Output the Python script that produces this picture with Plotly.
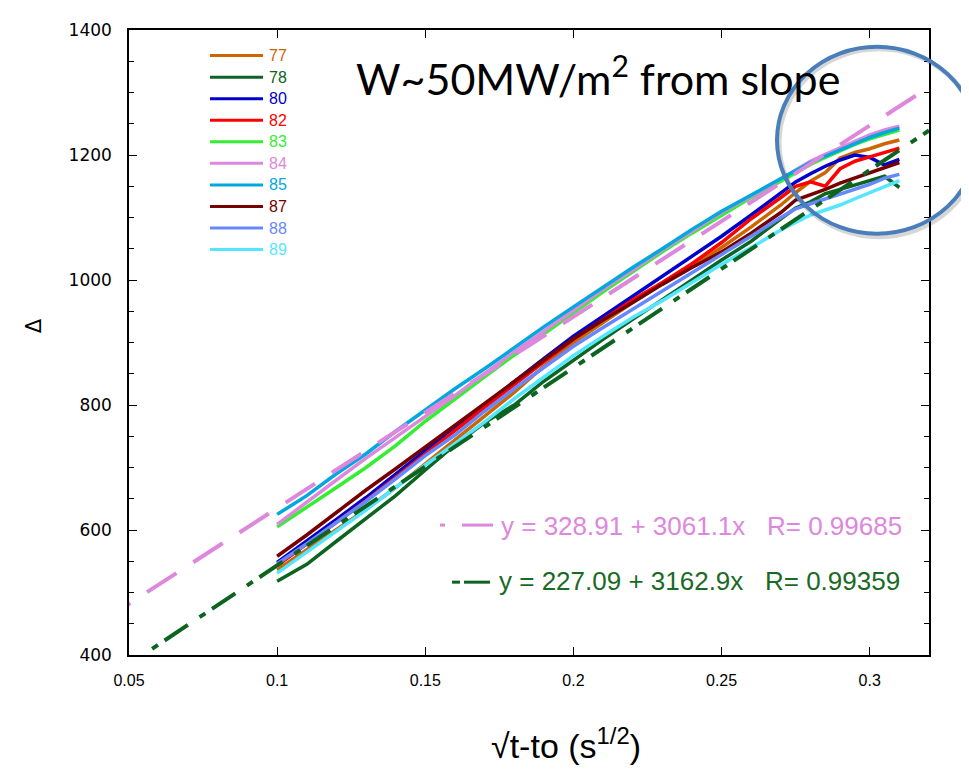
import plotly.graph_objects as go

# ---------------- data ----------------
X = [0.10, 0.11, 0.12, 0.13, 0.14, 0.15, 0.16, 0.17, 0.18, 0.19, 0.20, 0.21, 0.22,
     0.23, 0.24, 0.25, 0.26, 0.27, 0.275, 0.28, 0.285, 0.29, 0.295, 0.30, 0.305, 0.31]

S77 = [536, 568, 600, 633, 668, 706, 744, 782, 820, 862, 900, 932, 964,
       994, 1023, 1052, 1085, 1120, 1140, 1158, 1172, 1195, 1204, 1210, 1218, 1224]
S78 = [518, 545, 582, 618, 655, 696, 736, 772, 800, 838, 872, 905, 937,
       968, 1000, 1032, 1062, 1098, 1115, 1125, 1138, 1145, 1152, 1160, 1166, 1148]
S80 = [548, 582, 617, 652, 690, 727, 764, 801, 838, 874, 910, 942, 974,
       1006, 1038, 1070, 1104, 1140, 1157, 1170, 1182, 1192, 1200, 1196, 1184, 1193]
S82 = [543, 578, 612, 647, 684, 722, 759, 796, 833, 869, 905, 937, 968,
       996, 1026, 1060, 1098, 1132, 1150, 1157, 1150, 1178, 1190, 1197, 1204, 1211]
S83 = [605, 636, 668, 700, 735, 774, 810, 845, 880, 914, 948, 981, 1013,
       1045, 1075, 1104, 1132, 1158, 1172, 1185, 1196, 1207, 1217, 1226, 1233, 1240]
S84 = [609, 645, 680, 715, 748, 781, 815, 850, 885, 918, 952, 985, 1016,
       1048, 1078, 1108, 1134, 1162, 1177, 1190, 1201, 1212, 1222, 1232, 1240, 1246]
S85 = [625, 655, 690, 722, 758, 792, 826, 858, 892, 925, 957, 989, 1020,
       1050, 1081, 1110, 1136, 1162, 1176, 1188, 1198, 1208, 1218, 1228, 1236, 1243]
S87 = [558, 592, 628, 664, 698, 733, 768, 803, 838, 872, 906, 936, 964,
       993, 1020, 1045, 1075, 1108, 1128, 1136, 1145, 1155, 1163, 1171, 1180, 1188]
S88 = [546, 578, 612, 646, 682, 719, 752, 790, 826, 860, 894, 924, 953,
       983, 1012, 1041, 1070, 1100, 1114, 1122, 1130, 1138, 1146, 1153, 1163, 1169]
S89 = [531, 565, 598, 632, 668, 704, 738, 773, 810, 845, 879, 910, 940,
       967, 996, 1025, 1052, 1080, 1092, 1104, 1112, 1120, 1130, 1140, 1150, 1159]

SERIES_NAMES = ["77", "78", "80", "82", "83", "84", "85", "87", "88", "89"]
SERIES_VALUES = [S77, S78, S80, S82, S83, S84, S85, S87, S88, S89]
SERIES_COLORS = ["#cc6600", "#0c6420", "#0000cc", "#ff0000", "#33ee33",
                 "#dd88dd", "#00a8dd", "#760000", "#6688ff", "#55e6ff"]

# linear fits shown on chart
FIT1_A, FIT1_B = 328.91, 3061.1
FIT1_X = [0.0405, 0.317]
FIT2_A, FIT2_B = 227.09, 3162.9
FIT2_X = [0.0578, 0.32]
FIT1_LABEL = "y = 328.91 + 3061.1x   R= 0.99685"
FIT2_LABEL = "y = 227.09 + 3162.9x   R= 0.99359"

X_TICKS = [0.05, 0.1, 0.15, 0.2, 0.25, 0.3]
Y_TICKS = [400, 600, 800, 1000, 1200, 1400]

# ---------------- layout helpers (pixel -> paper) ----------------
L, T, PW, PH = 121, 12, 800, 635
R = 969 - L - PW
B = 775 - T - PH


def px(xp):
    return (xp - L) / PW


def py(yp):
    return (T + PH - yp) / PH


# ---------------- figure ----------------
fig = go.Figure()
for name, vals, col in zip(SERIES_NAMES, SERIES_VALUES, SERIES_COLORS):
    fig.add_trace(go.Scatter(x=X, y=vals, mode="lines", name=name,
                             line=dict(color=col, width=3.5), showlegend=False))

fig.add_trace(go.Scatter(
    x=FIT1_X, y=[FIT1_A + FIT1_B * v for v in FIT1_X], mode="lines",
    line=dict(color="#dd88dd", width=4, dash="35px,20px"), showlegend=False))
fig.add_trace(go.Scatter(
    x=FIT2_X, y=[FIT2_A + FIT2_B * v for v in FIT2_X], mode="lines",
    line=dict(color="#0c6420", width=4, dash="7px,8px,28px,14px"), showlegend=False))

axis_common = dict(showline=True, linecolor="black", linewidth=1.5, mirror="ticks",
                   ticks="inside", ticklen=8, tickwidth=1.2, tickcolor="black",
                   showgrid=False, zeroline=False, ticklabeloverflow="allow")

fig.update_xaxes(range=[0.05, 0.32], tickvals=X_TICKS,
                 ticktext=[f"{v:g}" for v in X_TICKS],
                 tickfont=dict(family="Liberation Sans Narrow, Liberation Sans, Arial", size=16, color="black"),
                 ticklabelstandoff=10, **axis_common)
fig.update_yaxes(range=[400, 1400], tickvals=Y_TICKS,
                 tickfont=dict(family="DejaVu Sans", size=17, color="black"),
                 ticklabelstandoff=12,
                 minor=dict(dtick=50, ticks="inside", ticklen=5, tickwidth=1.2, tickcolor="black"),
                 **axis_common)

annotations = [
    dict(text="W~50MW/m<sup>2</sup> from slope", xref="paper", yref="paper",
         x=px(346), y=py(58), xanchor="left", yanchor="middle",
         showarrow=False, font=dict(family="Lato", size=43, color="black")),
    dict(text=FIT1_LABEL, xref="paper", yref="paper",
         x=px(491), y=py(516), xanchor="left", yanchor="middle",
         showarrow=False, font=dict(family="Liberation Sans, Arial", size=26, color="#dd88dd")),
    dict(text=FIT2_LABEL, xref="paper", yref="paper",
         x=px(489), y=py(572), xanchor="left", yanchor="middle",
         showarrow=False, font=dict(family="Liberation Sans, Arial", size=26, color="#1a6a26")),
    dict(text="√t-to (s<sup>1/2</sup>)", xref="paper", yref="paper",
         x=px(558), y=py(737), xanchor="center", yanchor="middle",
         showarrow=False, font=dict(family="Liberation Sans Narrow, Liberation Sans, Arial", size=34, color="black")),
    dict(text="Δ", xref="paper", yref="paper", textangle=-90,
         x=px(26), y=py(313), xanchor="center", yanchor="middle",
         showarrow=False, font=dict(family="DejaVu Sans", size=21, color="black")),
]

shapes = [
    # legend samples beside the fit labels
    dict(type="line", xref="paper", yref="paper", x0=px(432), x1=px(437),
         y0=py(515), y1=py(515), line=dict(color="#dd88dd", width=3)),
    dict(type="line", xref="paper", yref="paper", x0=px(454), x1=px(485),
         y0=py(515), y1=py(515), line=dict(color="#dd88dd", width=3)),
    dict(type="line", xref="paper", yref="paper", x0=px(444), x1=px(452),
         y0=py(573), y1=py(573), line=dict(color="#0c6420", width=3)),
    dict(type="line", xref="paper", yref="paper", x0=px(456), x1=px(482),
         y0=py(573), y1=py(573), line=dict(color="#0c6420", width=3)),
]

# series key (upper left)
for i, (name, col) in enumerate(zip(SERIES_NAMES, SERIES_COLORS)):
    yrow = 38 + 21.9 * i
    shapes.append(dict(type="line", xref="paper", yref="paper", x0=px(202), x1=px(255),
                       y0=py(yrow), y1=py(yrow), line=dict(color=col, width=3)))
    annotations.append(dict(text=name, xref="paper", yref="paper", x=px(259), y=py(yrow),
                            xanchor="left", yanchor="middle", showarrow=False,
                            font=dict(family="Liberation Sans, Arial", size=16, color=col)))

# highlight circle (with soft shadow)
shapes += [
    dict(type="circle", xref="paper", yref="paper",
         x0=px(771), x1=px(971), y0=py(222), y1=py(31),
         line=dict(color="rgba(0,0,0,0.16)", width=5)),
    dict(type="circle", xref="paper", yref="paper",
         x0=px(769), x1=px(969), y0=py(219), y1=py(29),
         line=dict(color="#4a7ebb", width=4)),
]

fig.update_layout(
    width=969, height=775,
    margin=dict(l=L, r=R, t=T, b=B),
    paper_bgcolor="white", plot_bgcolor="white",
    showlegend=False,
    annotations=annotations,
    shapes=shapes,
)

fig.write_html("out.html")
